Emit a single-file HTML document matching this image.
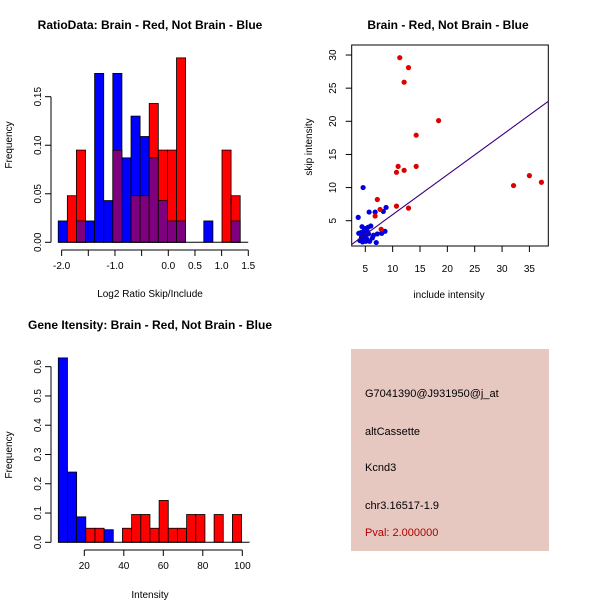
<!DOCTYPE html>
<html><head><meta charset="utf-8"><style>
html,body{margin:0;padding:0;background:#fff;}
svg{display:block;font-family:"Liberation Sans",sans-serif;}
</style></head><body>
<svg id="chart" width="600" height="600" xmlns="http://www.w3.org/2000/svg">
<defs><clipPath id="boxclip"><rect x="351.7" y="45" width="196.6" height="201"/></clipPath></defs>
<rect width="600" height="600" fill="#fff"/>
<g id="p1"></g>
<g id="p2"></g>
<g id="p3"></g>
<g id="p4">
<rect x="351" y="349" width="198" height="202" fill="#e6c8c1"/>
<text x="365" y="397" font-size="11">G7041390@J931950@j_at</text>
<text x="365" y="435" font-size="11">altCassette</text>
<text x="365" y="471" font-size="11">Kcnd3</text>
<text x="365" y="509" font-size="11">chr3.16517-1.9</text>
<text x="365" y="536" font-size="11" fill="#b00000">Pval: 2.000000</text>
</g>
</svg>
<script>
// Plot 1 data: ratio histogram (20 bins)
const ratioBinStart = -2.064;
const ratioBinWidth = 0.1706;
const ratioRed  = [0,0.048,0.095,0,0,0,0.095,0,0.048,0.048,0.143,0.095,0.095,0.190,0,0,0,0,0.095,0.048];
const ratioBlue = [0.022,0,0.022,0.022,0.174,0.043,0.174,0.087,0.130,0.109,0.087,0.043,0.022,0.022,0,0,0.022,0,0,0.022];
const ratioXTicks = [-2.0,-1.5,-1.0,-0.5,0.0,0.5,1.0,1.5];
const ratioXLabels = ["-2.0","","-1.0","","0.0","0.5","1.0","1.5"];
const ratioYTicks = [0,0.05,0.10,0.15];
const ratioYLabels = ["0.00","0.05","0.10","0.15"];

// Plot 2 data: scatter
const redX = [11.3,12.9,12.1,18.4,14.3,11.0,14.3,10.7,12.1,7.2,7.7,6.8,7.9,10.7,12.9,32.1,35.0,37.2];
const redY = [29.6,28.1,25.9,20.1,17.9,13.2,13.2,12.3,12.6,8.2,6.7,5.7,3.7,7.2,6.9,10.3,11.8,10.8];
const blueX = [4.6,3.7,5.7,6.8,8.3,8.8,4.4,5.0,5.5,6.0,4.2,4.6,5.0,5.3,4.0,4.5,5.8,6.3,7.0,7.2,8.0,8.6,4.8,5.6,6.5,4.3,5.1,3.8,4.9,5.4];
const blueY = [10.0,5.5,6.3,6.3,6.4,7.0,4.1,3.8,4.0,4.2,3.2,2.9,2.5,2.2,2.0,1.8,1.9,2.4,1.7,3.0,3.1,3.4,3.5,3.0,2.8,2.5,1.9,3.1,2.2,3.3];
const fitLine = [0, 45]; // x range (clipped to box)
const fitSlope = 0.601, fitIntercept = -0.094;
const scXTicks = [5,10,15,20,25,30,35];
const scYTicks = [5,10,15,20,25,30];

// Plot 3 data: intensity histogram
const intBinStart = 6.84;
const intBinWidth = 4.64;
const intRed  = [0,0,0,0.048,0.048,0,0,0.048,0.095,0.095,0.048,0.143,0.048,0.048,0.095,0.095,0,0.095,0,0.095];
const intBlue = [0.63,0.24,0.087,0,0,0.043,0,0,0,0,0,0,0,0,0,0,0,0,0,0];
const intXTicks = [20,40,60,80,100];
const intYTicks = [0,0.1,0.2,0.3,0.4,0.5,0.6];
const intYLabels = ["0.0","0.1","0.2","0.3","0.4","0.5","0.6"];

const NS = "http://www.w3.org/2000/svg";
function mk(parent, tag, attrs, txt){
  const e = document.createElementNS(NS, tag);
  for (const k in attrs) e.setAttribute(k, attrs[k]);
  if (txt !== undefined) e.textContent = txt;
  parent.appendChild(e);
  return e;
}
function title(g, x, y, s, name){
  const t = mk(g,'text',{x:x,y:y,'font-size':12,'font-weight':'bold','text-anchor':'middle'},s);
  
  
}
function xlab(g,x,y,s,name){
  const t = mk(g,'text',{x:x,y:y,'font-size':10,'text-anchor':'middle'},s);
  
  
}
function ylab(g,x,y,s,name){
  const t = mk(g,'text',{x:x,y:y,'font-size':10,'text-anchor':'middle',transform:`rotate(-90 ${x} ${y})`},s);
  
  
}
function histogram(g, start, width, red, blue, xs, ys){
  for (let i=0;i<red.length;i++){
    const x0 = xs(start+i*width), x1 = xs(start+(i+1)*width);
    const r = red[i], b = blue[i];
    const lo = Math.min(r,b), hi = Math.max(r,b);
    if (hi>0){
      const c = r>b ? '#ff0000' : '#0000ff';
      const bar = mk(g,'rect',{x:x0,y:ys(hi),width:x1-x0,height:ys(0)-ys(hi),fill:c,stroke:'#000','stroke-width':0.8});
      
      
    }
    if (lo>0){
      const bar = mk(g,'rect',{x:x0,y:ys(lo),width:x1-x0,height:ys(0)-ys(lo),fill:'#7f007f',stroke:'#000','stroke-width':0.8});
      
      
    }
  }
}
function yAxis(g, x, vals, labels, ys){
  mk(g,'line',{x1:x,x2:x,y1:ys(vals[0]),y2:ys(vals[vals.length-1]),stroke:'#000'});
  vals.forEach((v,i)=>{
    mk(g,'line',{x1:x-6,x2:x,y1:ys(v),y2:ys(v),stroke:'#000'});
    const tx = x-10, ty = ys(v);
    const t = mk(g,'text',{x:tx,y:ty,'font-size':10,'text-anchor':'middle',transform:`rotate(-90 ${tx} ${ty})`},labels[i]);
    
    
  });
}
function xAxis(g, y, vals, labels, xs){
  mk(g,'line',{x1:xs(vals[0]),x2:xs(vals[vals.length-1]),y1:y,y2:y,stroke:'#000'});
  vals.forEach((v,i)=>{
    mk(g,'line',{x1:xs(v),x2:xs(v),y1:y,y2:y+6,stroke:'#000'});
    if (labels[i]!==''){
      const t = mk(g,'text',{x:xs(v),y:y+19,'font-size':10,'text-anchor':'middle'},labels[i]);
      
      
    }
  });
}

// Plot 1
(function(){
  const g = document.getElementById('p1');
  const xs = v => 168.3 + v*53.33;
  const ys = v => 242.3 - v*970.7;
  title(g,150,29,'RatioData: Brain - Red, Not Brain - Blue','plot1-title');
  histogram(g, ratioBinStart, ratioBinWidth, ratioRed, ratioBlue, xs, ys);
  mk(g,'line',{x1:xs(ratioBinStart),x2:xs(ratioBinStart+20*ratioBinWidth)+8,y1:ys(0),y2:ys(0),stroke:'#000'});
  yAxis(g, 51, ratioYTicks, ratioYLabels, ys);
  xAxis(g, 250, ratioXTicks, ratioXLabels, xs);
  xlab(g,150,297,'Log2 Ratio Skip/Include','plot1-x-title');
  ylab(g,12,145,'Frequency','plot1-y-title');
})();

// Plot 2
(function(){
  const g = document.getElementById('p2');
  const xs = v => 365.3 + (v-5)*5.47;
  const ys = v => 220.7 - (v-5)*6.627;
  title(g,448,29,'Brain - Red, Not Brain - Blue','plot2-title');
  const box = mk(g,'rect',{x:351.7,y:45,width:196.6,height:201,fill:'none',stroke:'#000'});
  
  
  for (let i=0;i<blueX.length;i++){
    const c = mk(g,'circle',{cx:xs(blueX[i]),cy:ys(blueY[i]),r:2.6,fill:'#0000dd'});
    
    
  }
  for (let i=0;i<redX.length;i++){
    const c = mk(g,'circle',{cx:xs(redX[i]),cy:ys(redY[i]),r:2.6,fill:'#dd0000'});
    
    
  }
  const ln = mk(g,'line',{x1:xs(fitLine[0]),y1:ys(fitSlope*fitLine[0]+fitIntercept),x2:xs(fitLine[1]),y2:ys(fitSlope*fitLine[1]+fitIntercept),stroke:'#3a007f','stroke-width':1.1,'clip-path':'url(#boxclip)'});
  
  
  scXTicks.forEach(v=>{
    mk(g,'line',{x1:xs(v),x2:xs(v),y1:246,y2:252,stroke:'#000'});
    const t = mk(g,'text',{x:xs(v),y:272,'font-size':10,'text-anchor':'middle'},String(v));
    
    
  });
  scYTicks.forEach(v=>{
    mk(g,'line',{x1:345.7,x2:351.7,y1:ys(v),y2:ys(v),stroke:'#000'});
    const tx=336, ty=ys(v);
    const t = mk(g,'text',{x:tx,y:ty,'font-size':10,'text-anchor':'middle',transform:`rotate(-90 ${tx} ${ty})`},String(v));
    
    
  });
  xlab(g,449,298,'include intensity','plot2-x-title');
  ylab(g,312,147,'skip intensity','plot2-y-title');
})();

// Plot 3
(function(){
  const g = document.getElementById('p3');
  const xs = v => 84.3 + (v-20)*1.975;
  const ys = v => 542.3 - v*292.7;
  title(g,150,329,'Gene Itensity: Brain - Red, Not Brain - Blue','plot3-title');
  histogram(g, intBinStart, intBinWidth, intRed, intBlue, xs, ys);
  mk(g,'line',{x1:xs(intBinStart),x2:xs(intBinStart+20*intBinWidth)+8,y1:ys(0),y2:ys(0),stroke:'#000'});
  yAxis(g, 51, intYTicks, intYLabels, ys);
  xAxis(g, 550, intXTicks, intXTicks.map(String), xs);
  xlab(g,150,598,'Intensity','plot3-x-title');
  ylab(g,12,455,'Frequency','plot3-y-title');
})();
</script>
</body></html>
